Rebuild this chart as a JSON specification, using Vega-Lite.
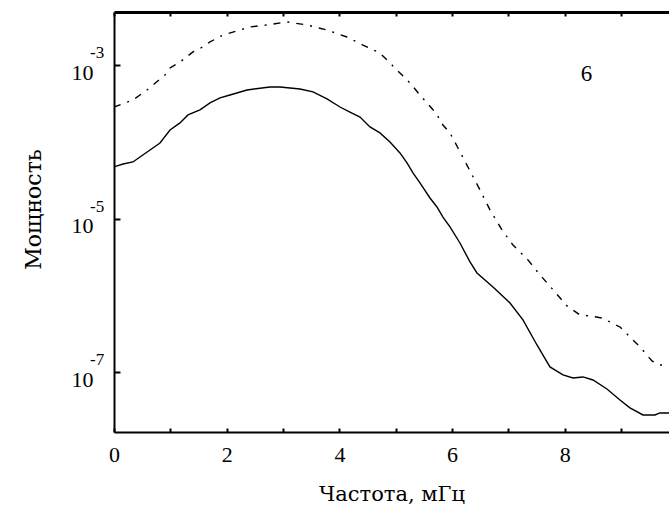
{
  "$schema": "https://vega.github.io/schema/vega-lite/v6.json",
  "width": 555,
  "height": 420,
  "autosize": {"type": "none"},
  "padding": {"left": 114, "top": 12, "right": 0, "bottom": 81},
  "background": "white",
  "config": {"view": {"stroke": null}},
  "datasets": {
    "solid": [
      {"f": 0.0, "p": 4.72e-5}, {"f": 0.16, "p": 5.16e-5}, {"f": 0.337, "p": 5.48e-5}, {"f": 0.461, "p": 6.37e-5},
      {"f": 0.639, "p": 7.85e-5}, {"f": 0.816, "p": 9.69e-5}, {"f": 0.994, "p": 1.43e-4}, {"f": 1.171, "p": 1.77e-4},
      {"f": 1.313, "p": 2.25e-4}, {"f": 1.526, "p": 2.61e-4}, {"f": 1.704, "p": 3.22e-4}, {"f": 1.881, "p": 3.74e-4},
      {"f": 2.059, "p": 4.09e-4}, {"f": 2.36, "p": 4.75e-4}, {"f": 2.768, "p": 5.2e-4}, {"f": 2.946, "p": 5.2e-4},
      {"f": 3.301, "p": 4.9e-4}, {"f": 3.532, "p": 4.48e-4}, {"f": 3.78, "p": 3.63e-4}, {"f": 4.011, "p": 2.85e-4},
      {"f": 4.188, "p": 2.45e-4}, {"f": 4.366, "p": 2.11e-4}, {"f": 4.543, "p": 1.57e-4}, {"f": 4.72, "p": 1.31e-4},
      {"f": 4.898, "p": 9.98e-5}, {"f": 5.075, "p": 7.18e-5}, {"f": 5.2, "p": 5.32e-5}, {"f": 5.306, "p": 3.94e-5},
      {"f": 5.43, "p": 2.92e-5}, {"f": 5.608, "p": 1.86e-5}, {"f": 5.732, "p": 1.42e-5}, {"f": 5.838, "p": 1.05e-5},
      {"f": 5.963, "p": 7.8e-6}, {"f": 6.14, "p": 4.82e-6}, {"f": 6.318, "p": 2.73e-6}, {"f": 6.442, "p": 1.96e-6},
      {"f": 6.726, "p": 1.29e-6}, {"f": 7.028, "p": 7.97e-7}, {"f": 7.258, "p": 4.79e-7}, {"f": 7.507, "p": 2.26e-7},
      {"f": 7.737, "p": 1.17e-7}, {"f": 7.968, "p": 9.19e-8}, {"f": 8.146, "p": 8.4e-8}, {"f": 8.323, "p": 8.66e-8},
      {"f": 8.501, "p": 7.91e-8}, {"f": 8.749, "p": 6.04e-8}, {"f": 8.98, "p": 4.34e-8}, {"f": 9.157, "p": 3.42e-8},
      {"f": 9.388, "p": 2.77e-8}, {"f": 9.601, "p": 2.77e-8}, {"f": 9.689, "p": 2.94e-8}, {"f": 9.85, "p": 2.94e-8}
    ],
    "dashdot": [
      {"f": 0.0, "p": 2.85e-4}, {"f": 0.337, "p": 3.52e-4}, {"f": 0.461, "p": 4.09e-4}, {"f": 0.586, "p": 4.75e-4},
      {"f": 0.905, "p": 7.45e-4}, {"f": 0.994, "p": 9.2e-4}, {"f": 1.171, "p": 1.1e-3}, {"f": 1.402, "p": 1.49e-3},
      {"f": 1.579, "p": 1.73e-3}, {"f": 1.704, "p": 2.01e-3}, {"f": 1.934, "p": 2.47e-3}, {"f": 2.183, "p": 2.79e-3},
      {"f": 2.413, "p": 3.15e-3}, {"f": 2.715, "p": 3.34e-3}, {"f": 3.07, "p": 3.66e-3}, {"f": 3.425, "p": 3.34e-3},
      {"f": 3.78, "p": 2.87e-3}, {"f": 4.135, "p": 2.33e-3}, {"f": 4.419, "p": 1.83e-3}, {"f": 4.72, "p": 1.44e-3},
      {"f": 4.845, "p": 1.17e-3}, {"f": 5.022, "p": 8.66e-4}, {"f": 5.253, "p": 5.86e-4}, {"f": 5.43, "p": 4.09e-4},
      {"f": 5.714, "p": 2.38e-4}, {"f": 5.838, "p": 1.66e-4}, {"f": 5.963, "p": 1.31e-4}, {"f": 6.105, "p": 8.34e-5},
      {"f": 6.495, "p": 2.37e-5}, {"f": 6.673, "p": 1.3e-5}, {"f": 6.886, "p": 7.12e-6}, {"f": 7.081, "p": 4.54e-6},
      {"f": 7.347, "p": 2.9e-6}, {"f": 7.56, "p": 1.85e-6}, {"f": 7.826, "p": 1.11e-6}, {"f": 8.039, "p": 7.29e-7},
      {"f": 8.27, "p": 5.56e-7}, {"f": 8.447, "p": 5.4e-7}, {"f": 8.66, "p": 5.08e-7}, {"f": 8.98, "p": 3.88e-7},
      {"f": 9.157, "p": 2.87e-7}, {"f": 9.335, "p": 2.13e-7}, {"f": 9.548, "p": 1.4e-7}, {"f": 9.689, "p": 1.24e-7},
      {"f": 9.85, "p": 1.24e-7}
    ],
    "label": [{"f": 8.385, "p": 7.68e-4, "t": "6"}],
    "exponents": [
      {"f": 0, "p": 1e-3, "e": "-3"},
      {"f": 0, "p": 1e-5, "e": "-5"},
      {"f": 0, "p": 1e-7, "e": "-7"}
    ]
  },
  "resolve": {"axis": {"x": "independent", "y": "independent"}},
  "layer": [
    {
      "data": {"name": "solid"},
      "mark": {"type": "line", "color": "black", "strokeWidth": 1.4, "clip": true},
      "encoding": {
        "x": {
          "field": "f", "type": "quantitative",
          "scale": {"domain": [0, 9.85], "nice": false, "zero": false},
          "axis": {
            "orient": "bottom", "values": [0, 1, 2, 3, 4, 5, 6, 7, 8, 9],
            "labelExpr": "datum.value % 2 == 0 ? datum.label : ''",
            "grid": false, "tickSize": -4, "tickWidth": 2, "tickColor": "black",
            "domainColor": "black", "domainWidth": 2,
            "labelFont": "Liberation Serif", "labelFontSize": 22, "labelColor": "black",
            "labelPadding": 16, "labelFlush": false, "labelOverlap": false,
            "title": "Частота, мГц", "titleFont": "DejaVu Serif", "titleFontSize": 21,
            "titleFontWeight": "normal", "titleColor": "black", "titlePadding": 18
          }
        },
        "y": {
          "field": "p", "type": "quantitative",
          "scale": {"type": "log", "domain": [1.66e-8, 4.93e-3], "nice": false},
          "axis": {
            "orient": "left", "values": [1e-7, 1e-5, 1e-3],
            "labelExpr": "'10'",
            "grid": false, "tickSize": -6, "tickWidth": 2, "tickColor": "black",
            "domainColor": "black", "domainWidth": 2,
            "labelFont": "Liberation Serif", "labelFontSize": 22, "labelColor": "black",
            "labelPadding": 27, "labelBaseline": "alphabetic", "labelOffset": 14,
            "title": "Мощность", "titleFont": "DejaVu Serif", "titleFontSize": 22,
            "titleFontWeight": "normal", "titleColor": "black", "titlePadding": 26, "titleY": 197
          }
        }
      }
    },
    {
      "data": {"name": "dashdot"},
      "mark": {"type": "line", "color": "black", "strokeWidth": 1.4, "strokeDash": [7, 7, 2, 7], "clip": true},
      "encoding": {
        "x": {
          "field": "f", "type": "quantitative",
          "scale": {"domain": [0, 9.85], "nice": false, "zero": false},
          "axis": {
            "orient": "top", "values": [0, 1, 2, 3, 4, 5, 6, 7, 8, 9],
            "labels": false, "grid": false, "tickSize": -4, "tickWidth": 2, "tickColor": "black",
            "domainColor": "black", "domainWidth": 3, "title": null
          }
        },
        "y": {
          "field": "p", "type": "quantitative",
          "scale": {"type": "log", "domain": [1.66e-8, 4.93e-3], "nice": false},
          "axis": null
        }
      }
    },
    {
      "data": {"name": "label"},
      "mark": {"type": "text", "font": "Liberation Serif", "fontSize": 23, "color": "black"},
      "encoding": {
        "x": {"field": "f", "type": "quantitative", "scale": {"domain": [0, 9.85], "nice": false, "zero": false}, "axis": null},
        "y": {"field": "p", "type": "quantitative", "scale": {"type": "log", "domain": [1.66e-8, 4.93e-3], "nice": false}, "axis": null},
        "text": {"field": "t"}
      }
    },
    {
      "data": {"name": "exponents"},
      "mark": {"type": "text", "font": "Liberation Serif", "fontSize": 17, "color": "black", "align": "left", "baseline": "alphabetic", "dx": -24, "dy": -7, "clip": false},
      "encoding": {
        "x": {"field": "f", "type": "quantitative", "scale": {"domain": [0, 9.85], "nice": false, "zero": false}, "axis": null},
        "y": {"field": "p", "type": "quantitative", "scale": {"type": "log", "domain": [1.66e-8, 4.93e-3], "nice": false}, "axis": null},
        "text": {"field": "e"}
      }
    }
  ]
}
